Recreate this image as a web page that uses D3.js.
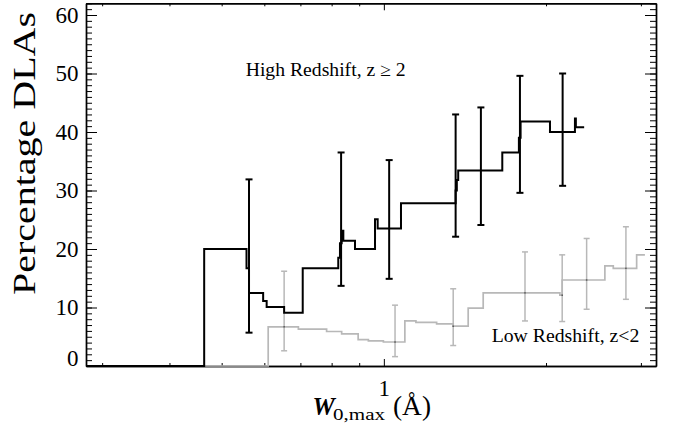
<!DOCTYPE html>
<html>
<head>
<meta charset="utf-8">
<script src="https://cdn.jsdelivr.net/npm/d3@7"></script>
<style>
body { margin: 0; background: #fff; }
text { font-family: "Liberation Serif", "Times New Roman", serif; fill: #000; }
</style>
</head>
<body>
<svg id="chart" width="673" height="436"></svg>
<script>
// high redshift (z >= 2): bin edges in W0,max (A) and percentage in each bin
var hiEdges = [0.28, 0.464, 0.556, 0.562, 0.597, 0.606, 0.653, 0.707, 0.823, 0.829, 0.835, 0.841, 0.884,
               0.963, 0.974, 1.076, 1.359, 1.366, 1.374, 1.659, 1.781, 1.794, 2.034, 2.263, 2.272, 2.354];
var hiPct = [0, 20.0, 16.7, 12.5, 11.1, 10.1, 9.1, 16.7, 18.5, 21.0, 23.1, 21.4, 20.0,
             25.1, 23.5, 27.8, 30.0, 31.8, 33.4, 36.5, 39.0, 41.8, 40.0, 42.3, 40.8];
var hiErrW = [0.562, 0.833, 1.023, 1.359, 1.514, 1.789, 2.147];
var hiErrHi = [31.9, 36.5, 35.2, 43.0, 44.2, 49.6, 50.0];
var hiErrLo = [5.7, 13.7, 14.9, 22.1, 24.1, 29.6, 30.8];

// low redshift (z < 2)
var loEdges = [0.28, 0.610, 0.694, 0.783, 0.835, 0.896, 0.936, 0.998, 1.094, 1.147, 1.253, 1.345,
               1.434, 1.529, 2.122, 2.143, 2.572, 2.666, 2.946, 3.052];
var loPct = [0, 6.7, 6.3, 5.9, 5.5, 4.5, 4.3, 4.1, 7.7, 7.45, 7.2, 6.8, 9.9, 12.5, 12.1, 14.7, 17.1, 16.7, 19.0];
var loErrW = [0.653, 1.049, 1.345, 1.828, 2.143, 2.379, 2.814];
var loErrHi = [16.2, 10.4, 13.2, 19.5, 19.0, 21.8, 23.8];
var loErrLo = [2.6, 1.6, 3.5, 7.7, 7.6, 9.7, 11.4];
var loErrMid = [6.7, 4.1, 6.8, 12.5, 12.1, 14.7, 16.7];

var xMajor = [1];
var xMinor = [0.3, 0.4, 0.5, 0.6, 0.7, 0.8, 0.9, 2, 3];
var yMajor = [0, 10, 20, 30, 40, 50, 60];
var yMinor = d3.range(0, 63);

var svg = d3.select('#chart'),
   margin = {top: 3.3, right: 17, bottom: 70, left: 86},
   width = +svg.attr("width") - margin.left - margin.right,
   height = +svg.attr("height") - margin.top - margin.bottom,
   g = svg.append("g").attr("transform", "translate(" + margin.left + "," + margin.top + ")");

var x = d3.scaleLog()
      .domain([0.28, 3.2])
      .range([0, width]);

var y = d3.scaleLinear()
      .domain([0, 62])
      .range([height, 0]);

var line = d3.line()
      .x(function (d) { return x(d[0]); })
      .y(function (d) { return y(d[1]); })
      .curve(d3.curveStepAfter);

function steps(edges, vals) {
   var pts = vals.map(function (v, i) { return [edges[i], v]; });
   pts.push([edges[edges.length - 1], vals[vals.length - 1]]);
   return pts;
}

function styleAxis(sel) {
   sel.attr("font-family", "Liberation Serif").attr("font-size", 23);
   sel.select(".domain").attr("stroke-width", 1.4);
   sel.selectAll(".tick line").attr("stroke-width", 1);
   sel.selectAll(".tick text").attr("fill", "#000");
}

// axes, ticks pointing inward on all four sides
g.append("g").call(d3.axisLeft(y).tickValues(yMinor).tickSize(-6).tickSizeOuter(0).tickFormat("")).call(styleAxis);
g.append("g").call(d3.axisLeft(y).tickValues(yMajor).tickSize(-11).tickSizeOuter(0).tickPadding(7.5)).call(styleAxis)
 .selectAll(".tick text").filter(function (d) { return d === 0; }).attr("y", -8);

g.append("g").attr("transform", "translate(" + width + ",0)")
 .call(d3.axisRight(y).tickValues(yMinor).tickSize(-6).tickSizeOuter(0).tickFormat("")).call(styleAxis);
g.append("g").attr("transform", "translate(" + width + ",0)")
 .call(d3.axisRight(y).tickValues(yMajor).tickSize(-11).tickSizeOuter(0).tickFormat("")).call(styleAxis);

g.append("g").attr("transform", "translate(0," + height + ")")
 .call(d3.axisBottom(x).tickValues(xMinor).tickSize(-3).tickSizeOuter(0).tickFormat("")).call(styleAxis);
g.append("g").attr("transform", "translate(0," + height + ")")
 .call(d3.axisBottom(x).tickValues(xMajor).tickSize(-7).tickSizeOuter(0).tickPadding(14).tickFormat(d3.format("d"))).call(styleAxis);

g.append("g")
 .call(d3.axisTop(x).tickValues(xMinor).tickSize(-3).tickSizeOuter(0).tickFormat("")).call(styleAxis);
g.append("g")
 .call(d3.axisTop(x).tickValues(xMajor).tickSize(-7).tickSizeOuter(0).tickFormat("")).call(styleAxis);

// low redshift, grey
var grey = "#b8b8b8";
g.append("path")
 .datum(steps(loEdges, loPct))
 .attr("fill", "none")
 .attr("stroke", grey)
 .attr("stroke-width", 1.7)
 .attr("d", line);

var loBars = g.append("g").attr("stroke", grey).attr("stroke-width", 1.5);
loErrW.forEach(function (w, i) {
   var cx = x(w);
   loBars.append("line").attr("x1", cx).attr("x2", cx).attr("y1", y(loErrLo[i])).attr("y2", y(loErrHi[i]));
   loBars.append("line").attr("x1", cx - 3).attr("x2", cx + 3).attr("y1", y(loErrLo[i])).attr("y2", y(loErrLo[i]));
   loBars.append("line").attr("x1", cx - 3).attr("x2", cx + 3).attr("y1", y(loErrHi[i])).attr("y2", y(loErrHi[i]));
   g.append("rect").attr("x", cx - 0.75).attr("y", y(loErrMid[i]) - 0.75).attr("width", 1.5).attr("height", 1.5).attr("fill", "#555");
});

// high redshift, black
g.append("path")
 .datum(steps(hiEdges, hiPct))
 .attr("fill", "none")
 .attr("stroke", "#000")
 .attr("stroke-width", 2)
 .attr("d", line);

var hiBars = g.append("g").attr("stroke", "#000").attr("stroke-width", 2);
hiErrW.forEach(function (w, i) {
   var cx = x(w);
   hiBars.append("line").attr("x1", cx).attr("x2", cx).attr("y1", y(hiErrLo[i])).attr("y2", y(hiErrHi[i]));
   hiBars.append("line").attr("x1", cx - 3.5).attr("x2", cx + 3.5).attr("y1", y(hiErrLo[i])).attr("y2", y(hiErrLo[i]));
   hiBars.append("line").attr("x1", cx - 3.5).attr("x2", cx + 3.5).attr("y1", y(hiErrHi[i])).attr("y2", y(hiErrHi[i]));
});

// labels
svg.append("text")
   .attr("x", 245.7).attr("y", 76)
   .attr("font-size", 18.5)
   .attr("textLength", 160).attr("lengthAdjust", "spacingAndGlyphs")
   .text("High Redshift, z \u2265 2");

svg.append("text")
   .attr("x", 491.7).attr("y", 341.7)
   .attr("font-size", 18.5)
   .attr("textLength", 147.6).attr("lengthAdjust", "spacingAndGlyphs")
   .text("Low Redshift, z<2");

svg.append("text")
   .attr("transform", "translate(35,153.5) rotate(-90)")
   .attr("text-anchor", "middle")
   .attr("font-size", 31)
   .attr("textLength", 283).attr("lengthAdjust", "spacingAndGlyphs")
   .text("Percentage DLAs");

var xt = svg.append("text").attr("y", 415);
xt.append("tspan").attr("x", 312.5).attr("font-size", 25).attr("font-weight", "bold").attr("font-style", "italic").text("W");
xt.append("tspan").attr("x", 333).attr("dy", 5).attr("font-size", 17)
  .attr("textLength", 52).attr("lengthAdjust", "spacingAndGlyphs").text("0,max");
xt.append("tspan").attr("x", 393).attr("dy", -5).attr("font-size", 27)
  .attr("textLength", 38).attr("lengthAdjust", "spacingAndGlyphs").text("(\u00c5)");
</script>
</body>
</html>
